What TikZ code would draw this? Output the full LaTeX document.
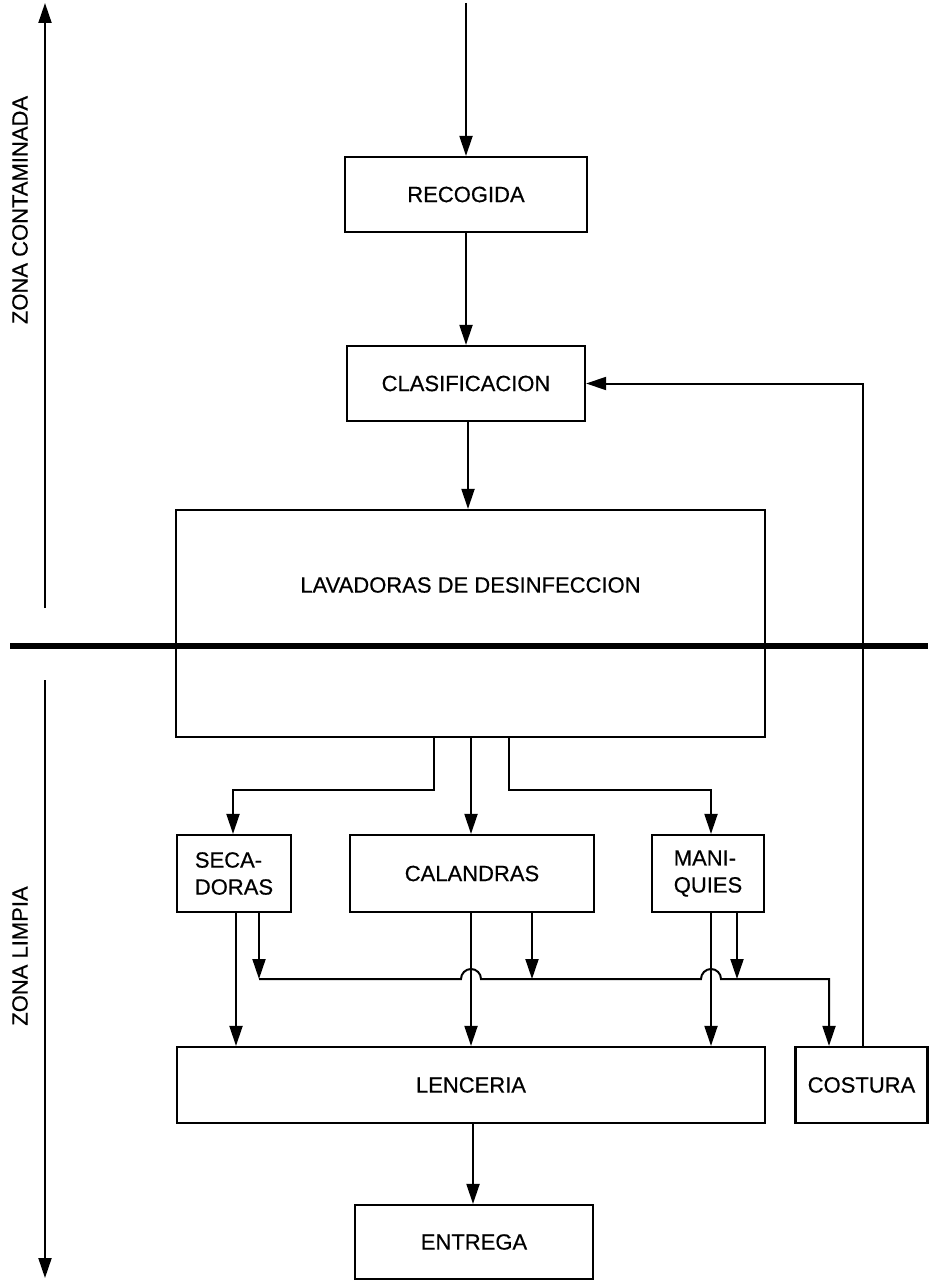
\documentclass[tikz,border=0pt]{standalone}
\usepackage{fontspec}
\setmainfont{Liberation Sans}[FakeBold=0.5]
\usetikzlibrary{arrows.meta}
\begin{document}
\begin{tikzpicture}[x=1pt,y=-1pt,
  box/.style={draw,line width=2.2pt,rectangle,inner sep=0pt},
  lbl/.style={font=\fontsize{22}{27}\selectfont},
  conn/.style={line width=2pt},
  arr/.style={conn,-{Triangle[length=20pt,width=13pt]}},
  zone/.style={lbl,rotate=90}
]
\useasboundingbox (0,0) rectangle (930,1281);
% nodes
\node[box,lbl,minimum width=242pt,minimum height=75pt] (rec) at (466,194.5) {RECOGIDA};
\node[box,lbl,minimum width=238pt,minimum height=75pt] (cla) at (466,383.5) {CLASIFICACION};
\node[box,minimum width=589pt,minimum height=227pt] (lav) at (470.5,623.5) {};
\node[lbl] (lavtxt) at (470.5,585) {LAVADORAS DE DESINFECCION};
\node[box,lbl,align=left,minimum width=114pt,minimum height=77pt] (sec) at (234,873.5) {SECA-\\DORAS};
\node[box,lbl,minimum width=244pt,minimum height=77pt] (cal) at (472,873.5) {CALANDRAS};
\node[box,lbl,align=left,minimum width=112pt,minimum height=77pt] (man) at (708,873.5) {MANI-\\QUIES};
\node[box,lbl,minimum width=588pt,minimum height=76pt] (len) at (471,1085) {LENCERIA};
\node[box,lbl,minimum width=132pt,minimum height=76pt] (cos) at (861.5,1085) {COSTURA};
\node[box,lbl,minimum width=238pt,minimum height=74pt] (ent) at (474,1242) {ENTREGA};
\node[zone] (zc) at (20,210) {ZONA CONTAMINADA};
\node[zone] (zl) at (20,956) {ZONA LIMPIA};
% zone arrows and divider
\coordinate (ua) at (45,608);
\coordinate (ub) at (45,3);
\coordinate (la) at (45,680);
\coordinate (lb) at (45,1278);
\draw[arr] (ua) -- (ub);
\draw[arr] (la) -- (lb);
\coordinate (d1) at (10,646);
\coordinate (d2) at (928,646);
\draw[line width=6pt] (d1) -- (d2);
% main flow
\coordinate (in) at (466,3);
\draw[arr] (in) -- (rec.north);
\draw[arr] (rec.south) -- (cla.north);
\draw[arr] (cla.south -| 468,0) -- (468,0 |- lav.north);
% branches from lavadoras
\coordinate (br) at (0,790);
\draw[arr] (434,0 |- lav.south) |- (233,0 |- br) -- (233,0 |- sec.north);
\draw[arr] (471,0 |- lav.south) -- (471,0 |- cal.north);
\draw[arr] (509,0 |- lav.south) |- (711,0 |- br) -- (711,0 |- man.north);
% bus to costura
\coordinate (b1) at (259,979);
\coordinate (b2) at (532,979);
\coordinate (b3) at (737,979);
\coordinate (b4) at (829,979);
\draw[arr] (b1) -- (461,979) arc[start angle=180,end angle=0,radius=10pt]
  -- (701,979) arc[start angle=180,end angle=0,radius=10pt]
  -- (b4) -- (b4 |- cos.north);
\draw[arr] (b1 |- sec.south) -- (b1);
\draw[arr] (b2 |- cal.south) -- (b2);
\draw[arr] (b3 |- man.south) -- (b3);
% to lenceria
\draw[arr] (236,0 |- sec.south) -- (236,0 |- len.north);
\draw[arr] (471,0 |- cal.south) -- (471,0 |- len.north);
\draw[arr] (711,0 |- man.south) -- (711,0 |- len.north);
\draw[arr] (473,0 |- len.south) -- (473,0 |- ent.north);
% feedback
\draw[arr] (863,0 |- cos.north) |- (cla.east);
\end{tikzpicture}
\end{document}
